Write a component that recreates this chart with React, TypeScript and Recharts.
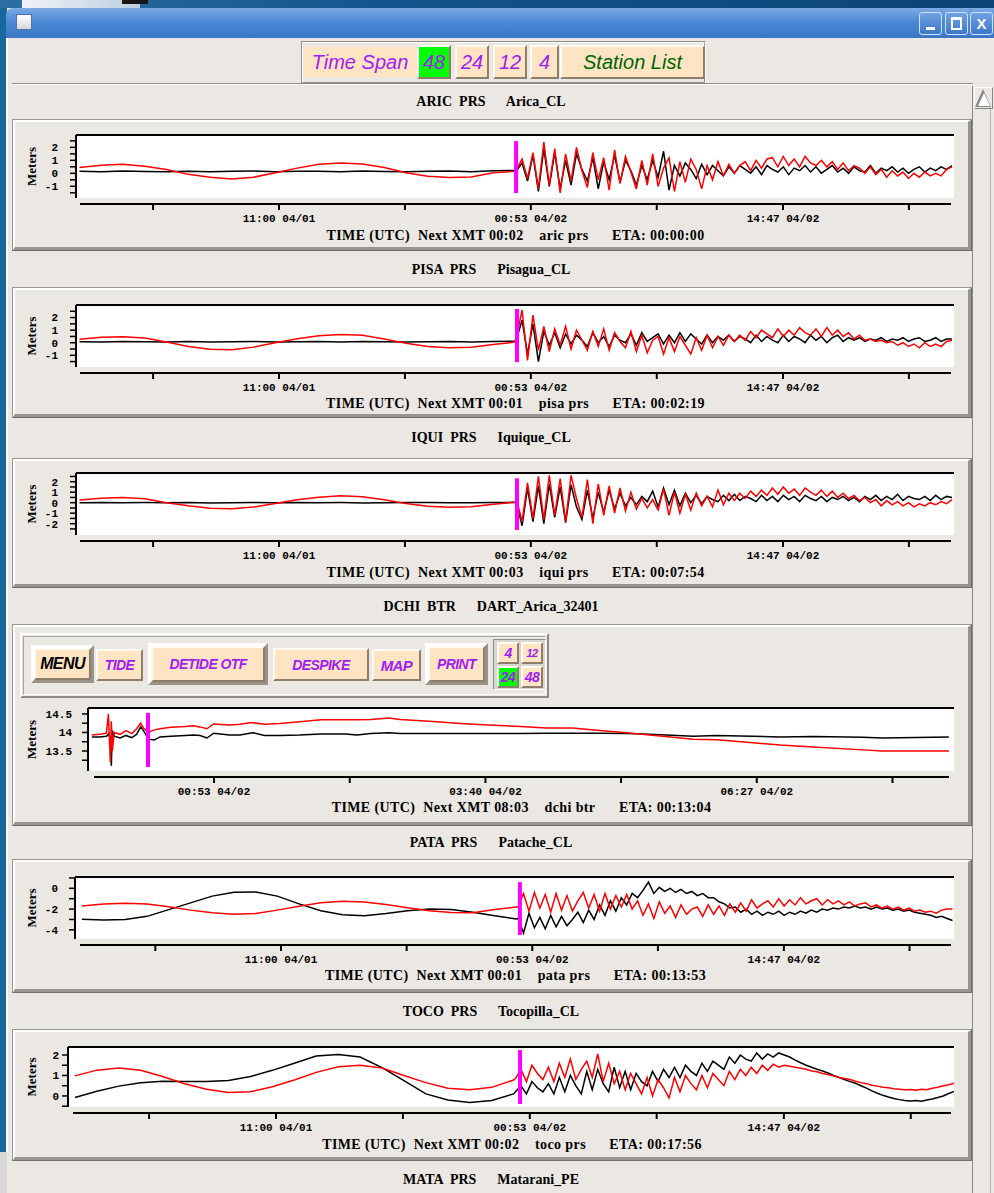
import React from 'react';
import { LineChart, Line, XAxis, YAxis, CartesianGrid, ReferenceLine } from 'recharts';

// ---------- DATA ----------
// hours since 00:00 UTC 04/01 (shared by the tide-gauge stations)
const tideTimes = [
  0, 1.2, 2.4, 3.6, 4.8, 6.0, 7.2, 8.4, 9.6, 10.8, 12.0, 13.2, 14.4, 15.6, 16.8, 18.0, 19.2, 20.4, 21.6, 22.8, 24.0,
  24.1, 24.4, 24.7, 25.0, 25.3, 25.6, 25.9, 26.2, 26.5, 26.8, 27.1, 27.4, 27.7, 28.0, 28.3, 28.6, 28.9, 29.2, 29.5, 29.8,
  30.1, 30.4, 30.7, 31.0, 31.3, 31.6, 31.9, 32.2, 32.5, 32.8, 33.1, 33.4, 33.7, 34.0, 34.3, 34.6, 34.9, 35.2, 35.5, 35.8,
  36.1, 36.4, 36.7, 37.0, 37.3, 37.6, 37.9, 38.2, 38.5, 38.8, 39.1, 39.4, 39.7, 40.0, 40.3, 40.6, 40.9, 41.2, 41.5, 41.8,
  42.1, 42.4, 42.7, 43.0, 43.3, 43.6, 43.9, 44.2, 44.5, 44.8, 45.1, 45.4, 45.7, 46.0, 46.3, 46.6, 46.9, 47.2, 47.5, 47.8,
  48.1,
];

const aricRed = [
  0.45, 0.63, 0.70, 0.55, 0.3, -0.08, -0.3, -0.44, -0.3, 0.05, 0.4, 0.7, 0.8, 0.72, 0.45, 0.05, -0.22, -0.33, -0.28, 0.05, 0.15,
  0.3, 1.1, -0.4, 1.6, -1.2, 2.4, -0.9, 1.9, -1.5, 1.5,
  -0.6, 2.0, 0.2, -1.1, 1.6, -0.5, 1.2, -1.3, 1.8, -0.8,
  1.3, 0.1, -1.2, 1.0, -0.9, 1.5, -1.0, 0.4, 1.2, -1.4,
  0.9, -0.7, 1.1, 0.3, -1.2, 0.6, -0.5, 0.9, -0.2, 0.7,
  0.0, 0.6, 0.9, 0.2, 1.0, 0.4, 1.1, 1.2, 0.5, 1.3,
  0.6, 1.1, 0.5, 1.3, 0.8, 0.6, 1.0, 0.5, 0.9, 0.3,
  0.8, 0.2, 0.6, 0.4, 0.0, 0.5, -0.1, 0.3, -0.3, 0.2,
  -0.2, 0.1, -0.4, 0.0, -0.3, 0.1, -0.2, 0.0, -0.2, 0.3,
  0.5,
];
const aricBlack = [
  0.15, 0.12, 0.17, 0.14, 0.12, 0.16, 0.13, 0.15, 0.18, 0.12, 0.15, 0.16, 0.13, 0.17, 0.14, 0.12, 0.15, 0.18, 0.13, 0.2, 0.22,
  0.2, 0.8, -0.6, 1.4, -1.4, 1.9, -1.0, 1.6, -1.2, 1.0,
  -0.9, 1.5, 0.3, -0.6, 1.2, -1.2, 0.9, -0.5, 1.4, -0.7,
  1.0, 0.2, -0.9, 0.6, -0.5, 1.0, -0.3, 1.7, -1.3, 0.6,
  -0.2, 0.8, 0.3, -0.4, 0.7, -0.1, 0.6, 0.2, -0.2, 0.5,
  0.0, 0.6, 0.3, 0.0, 0.5, -0.1, 0.6, 0.3, 0.1, 0.5,
  -0.1, 0.4, 0.2, 0.6, 0.1, 0.5, 0.0, 0.3, 0.6, 0.1,
  0.4, 0.0, 0.5, 0.2, 0.1, 0.6, 0.0, 0.4, 0.2, 0.5,
  0.1, 0.4, 0.0, 0.3, 0.5, 0.1, 0.4, 0.2, 0.5, 0.3,
  0.6,
];

const pisaRed = [
  0.27, 0.44, 0.48, 0.37, 0.05, -0.3, -0.52, -0.55, -0.35, 0.0, 0.32, 0.55, 0.66, 0.6, 0.3, -0.05, -0.3, -0.4, -0.35, -0.15, 0.05,
  0.5, 2.6, -1.4, 2.2, -0.6, 1.3, -0.7, 1.1, -0.2, 1.3,
  -0.5, 1.0, 0.2, -0.6, 0.9, -0.3, 1.1, -0.6, 0.8, 0.1,
  -0.4, 0.9, -0.7, 0.6, -0.8, 0.2, 0.5, -0.9, 0.4, -0.7,
  0.5, -0.2, -0.9, 0.4, -0.6, 0.6, -0.4, 0.5, -0.2, 0.6,
  0.1, 0.6, 0.2, 0.9, 0.4, 1.0, 0.7, 0.4, 1.1, 0.5,
  1.0, 0.6, 1.2, 0.8, 0.6, 1.1, 0.5, 1.2, 0.6, 1.0,
  0.5, 0.8, 0.3, 0.6, 0.2, 0.3, 0.1, 0.2, 0.0, 0.1,
  -0.2, 0.0, -0.3, -0.1, -0.4, 0.0, -0.3, -0.1, -0.3, 0.1,
  0.2,
];
const pisaBlack = [
  0.08, 0.06, 0.1, 0.07, 0.05, 0.09, 0.06, 0.08, 0.1, 0.05, 0.07, 0.09, 0.06, 0.1, 0.07, 0.05, 0.08, 0.1, 0.06, 0.09, 0.12,
  0.3, 1.8, -0.9, 1.5, -1.5, 0.9, -0.2, 0.8, -0.4, 0.7,
  -0.1, 0.6, 0.2, -0.3, 0.8, 0.0, 0.5, -0.3, 0.6, 0.2,
  0.0, 0.7, -0.2, 0.8, 0.1, 0.4, 0.7, -0.1, 0.6, 0.0,
  0.8, 0.1, 0.7, 0.3, -0.1, 0.6, 0.0, 0.5, 0.2, 0.6,
  0.1, 0.5, 0.3, 0.0, 0.6, 0.1, 0.5, 0.2, 0.0, 0.6,
  0.1, 0.5, 0.3, 0.0, 0.6, 0.2, 0.5, 0.0, 0.4, 0.6,
  0.1, 0.4, 0.2, 0.4, 0.1, 0.3, 0.2, 0.4, 0.1, 0.3,
  0.2, 0.4, 0.1, 0.3, 0.4, 0.1, 0.2, 0.4, 0.1, 0.3,
  0.3,
];

const iquiRed = [
  0.26, 0.42, 0.5, 0.38, 0.0, -0.3, -0.52, -0.58, -0.42, -0.07, 0.28, 0.52, 0.65, 0.56, 0.27, -0.07, -0.33, -0.43, -0.38, -0.15, 0.05,
  0.3, -1.8, 1.9, -1.5, 2.5, -1.6, 2.6, -1.2, 2.3, -1.8,
  2.6, 0.4, -1.4, 2.2, -2.0, 1.8, -1.2, 1.6, -1.0, 1.4,
  -0.8, 1.0, -0.6, 0.4, -0.5, 0.3, -0.7, 1.3, -1.2, 1.0,
  -1.0, 0.8, -0.7, 0.9, -0.3, 0.6, -0.4, 1.2, -0.2, 0.9,
  0.2, 0.9, 0.4, 1.1, 0.6, 1.2, 0.7, 1.4, 0.8, 1.5,
  0.9, 1.3, 0.7, 1.4, 1.0, 0.7, 1.2, 0.6, 1.1, 0.5,
  0.9, 0.4, 0.7, 0.2, 0.5, 0.0, 0.3, -0.3, 0.2, -0.2,
  0.1, -0.3, 0.0, -0.4, -0.1, -0.3, 0.0, -0.2, 0.1, -0.1,
  0.3,
];
const iquiBlack = [
  0.0, 0.02, -0.01, 0.01, 0.0, 0.02, -0.02, 0.0, 0.01, -0.01, 0.02, 0.0, 0.01, -0.02, 0.0, 0.02, 0.01, -0.01, 0.0, 0.02, 0.03,
  0.0, -2.2, 1.4, -1.8, 1.6, -2.0, 1.8, -1.4, 1.5, -1.9,
  1.7, -0.4, -1.6, 1.2, -1.5, 1.0, -0.9, 1.2, -0.6, 0.9,
  -0.3, 0.5, -0.2, 0.6, 0.1, 1.1, -0.4, 1.4, -0.2, 1.2,
  -0.3, 0.9, 0.0, 0.7, -0.1, 0.6, 0.3, 0.1, 0.7, 0.2,
  0.8, 0.2, 0.6, 0.4, 0.1, 0.7, 0.2, 0.6, 0.1, 0.7,
  0.3, 0.6, 0.1, 0.7, 0.4, 0.2, 0.6, 0.1, 0.5, 0.3,
  0.6, 0.2, 0.5, 0.1, 0.6, 0.3, 0.7, 0.2, 0.6, 0.3,
  0.8, 0.2, 0.6, 0.4, 0.3, 0.6, 0.2, 0.7, 0.3, 0.6,
  0.5,
];

const pataRed = [
  -1.7, -1.5, -1.44, -1.5, -1.78, -2.1, -2.35, -2.5, -2.42, -2.1, -1.72, -1.4, -1.25, -1.32, -1.55, -1.88, -2.15, -2.32, -2.35, -2.05, -1.8,
  -1.8, -0.5, -2.2, -0.4, -1.9, -0.6, -2.3, -0.5, -2.1, -0.7,
  -2.2, -1.2, -0.4, -1.9, -0.6, -2.2, -0.5, -2.0, -0.7, -1.8,
  -0.6, -2.0, -1.2, -2.6, -1.5, -2.9, -1.3, -2.4, -1.7, -2.8,
  -1.6, -2.5, -2.0, -1.8, -2.7, -1.6, -2.5, -1.7, -2.6, -1.5,
  -2.3, -1.4, -2.2, -1.1, -1.9, -1.5, -1.2, -1.8, -1.0, -1.7,
  -1.1, -1.6, -0.9, -1.5, -1.2, -1.0, -1.6, -1.1, -1.5, -1.2,
  -1.6, -1.3, -1.7, -1.5, -1.4, -1.8, -1.6, -1.9, -1.7, -2.0,
  -1.8, -2.1, -1.9, -2.2, -2.1, -2.3, -2.2, -2.4, -2.1, -2.0,
  -2.0,
];
const pataBlack = [
  -2.98, -3.04, -3.0, -2.7, -2.05, -1.4, -0.75, -0.38, -0.35, -0.75, -1.5, -2.15, -2.55, -2.63, -2.42, -2.15, -2.0, -2.05, -2.3, -2.65, -2.95,
  -2.9, -4.3, -2.4, -3.8, -2.8, -3.9, -2.6, -3.7, -2.7, -3.6,
  -3.0, -2.3, -3.3, -2.1, -3.0, -1.6, -2.6, -1.2, -2.2, -0.9,
  -1.6, -0.5, -0.9, -0.2, 0.6, -0.5, 0.1, -0.3, 0.0, -0.4,
  -0.1, -0.5, -0.3, -0.7, -0.5, -0.9, -0.9, -1.3, -1.5, -1.9,
  -1.8, -2.3, -2.0, -2.5, -2.2, -2.6, -2.3, -2.5, -2.2, -2.6,
  -2.3, -2.5, -2.2, -2.4, -2.1, -2.3, -2.0, -2.1, -1.9, -2.0,
  -1.8, -1.9, -1.7, -1.9, -1.8, -2.0, -1.8, -2.0, -1.9, -2.1,
  -2.0, -2.2, -2.1, -2.3, -2.4, -2.5, -2.6, -2.8, -2.7, -2.9,
  -3.1,
];

const tocoRed = [
  0.98, 1.26, 1.37, 1.25, 0.95, 0.6, 0.33, 0.17, 0.2, 0.45, 0.78, 1.15, 1.42, 1.5, 1.36, 1.0, 0.65, 0.38, 0.3, 0.42, 0.78,
  0.85, 1.3, 0.7, 1.5, 1.1, 0.8, 1.4, 0.7, 1.6, 0.9,
  1.8, 0.8, 1.3, 1.7, 0.9, 2.05, 0.7, 1.6, 0.6, 1.2,
  0.3, 1.1, 0.6, 0.1, 0.9, 0.0, 0.8, 0.4, -0.1, 0.9,
  0.2, 1.0, 0.6, 0.3, 1.0, 0.4, 1.1, 0.8, 0.5, 1.2,
  0.8, 1.3, 1.0, 1.4, 1.1, 1.5, 1.25, 1.55, 1.4, 1.5,
  1.45, 1.4, 1.35, 1.3, 1.22, 1.18, 1.1, 1.05, 0.98, 0.9,
  0.85, 0.8, 0.72, 0.65, 0.6, 0.52, 0.48, 0.42, 0.4, 0.35,
  0.33, 0.3, 0.32, 0.28, 0.33, 0.3, 0.38, 0.42, 0.5, 0.55,
  0.62,
];
const tocoBlack = [
  -0.08, 0.23, 0.48, 0.64, 0.72, 0.71, 0.7, 0.76, 0.95, 1.25, 1.6, 1.95, 2.02, 1.9, 1.38, 0.75, 0.1, -0.2, -0.32, -0.22, 0.1,
  0.2, 0.5, 0.1, 0.7, 0.4, 0.2, 0.6, 0.1, 0.9, 0.2,
  1.0, 0.5, 0.1, 1.2, 0.3, 1.3, 0.6, 0.2, 1.4, 0.4,
  1.2, 0.3, 1.1, 0.7, 0.5, 1.2, 0.7, 1.3, 0.9, 1.4,
  0.9, 1.5, 1.2, 1.0, 1.6, 1.2, 1.7, 1.5, 1.3, 1.9,
  1.6, 2.0, 1.8, 1.7, 2.1, 1.8, 2.05, 1.9, 2.1, 2.0,
  1.9, 1.75, 1.62, 1.5, 1.4, 1.3, 1.22, 1.12, 1.0, 0.9,
  0.8, 0.7, 0.62, 0.5, 0.38, 0.25, 0.13, 0.03, -0.05, -0.12,
  -0.18, -0.22, -0.25, -0.22, -0.26, -0.2, -0.15, -0.08, 0.0, 0.12,
  0.22,
];

// DART buoy 32401 (hours since 00:00 UTC 04/01)
const dartTimes = [
  23.63, 23.71, 23.78, 23.80, 23.82, 23.83, 23.84, 23.86, 23.92, 23.98,
  24.04, 24.09, 24.13, 24.16, 24.21, 24.27, 24.33, 24.44, 24.59, 24.67,
  24.74, 24.81, 24.88, 25.04, 25.15, 25.25, 25.29, 25.40, 25.56, 25.76,
  25.98, 26.23, 26.35, 26.49, 26.68, 26.79, 27.09, 27.49, 28.03, 28.29,
  28.56, 28.84, 29.12, 29.35, 29.80, 30.04, 30.41, 30.69, 31.03, 31.54,
  31.74, 32.42,
];
const dartRed = [
  13.93, 13.95, 13.98, 14.5, 13.2, 14.3, 13.5, 14.0, 13.95, 14.05,
  13.97, 14.1, 14.25, 14.12, 14.0, 14.07, 14.1, 14.14, 14.16, 14.18,
  14.15, 14.1, 14.23, 14.2, 14.22, 14.26, 14.26, 14.22, 14.24, 14.29,
  14.34, 14.34, 14.34, 14.35, 14.39, 14.35, 14.3, 14.23, 14.16, 14.12,
  14.12, 14.05, 13.99, 13.93, 13.82, 13.8, 13.72, 13.66, 13.61, 13.53,
  13.5, 13.5,
];
const dartBlack = [
  13.88, 13.88, 13.9, 13.95, 13.85, 13.1, 14.05, 13.9, 13.85, 13.92,
  13.86, 13.95, 14.15, 14.05, 13.82, 13.8, 13.88, 13.9, 13.92, 13.93,
  13.92, 13.85, 13.98, 13.93, 13.93, 13.98, 13.99, 13.92, 13.92, 13.93,
  13.96, 13.96, 13.93, 13.97, 13.99, 13.97, 13.97, 13.97, 13.97, 13.98,
  13.98, 13.98, 13.97, 13.95, 13.9, 13.92, 13.9, 13.88, 13.89, 13.87,
  13.85, 13.88,
];

const tideTicks = [4.058, 11.0, 17.942, 24.883, 31.825, 38.783, 45.725];
const tideTickLabels = ['', '11:00 04/01', '', '00:53 04/02', '', '14:47 04/02', ''];
const dartTicks = [24.883, 26.275, 27.667, 29.058, 30.45, 31.842];
const dartTickLabels = ['00:53 04/02', '', '03:40 04/02', '', '06:27 04/02', ''];

const meterTicks = [-1.5, -1, -0.5, 0, 0.5, 1, 1.5, 2, 2.5];
const meterTicksWide = [-2.5, -2, -1.5, -1, -0.5, 0, 0.5, 1, 1.5, 2, 2.5];
const pataTicks = [-4, -3, -2, -1, 0, 1];
const tocoTicks = [-0.5, 0, 0.5, 1, 1.5, 2];
const dartYTicks = [13.25, 13.5, 13.75, 14, 14.25, 14.5];

// ---------- STYLE ----------
const BG = '#ebe8e3';
const PEACH = '#ffe4c4';
const PURPLE = '#a020f0';
const SERIF = "'Liberation Serif', 'DejaVu Serif', serif";
const MONO = "'Liberation Mono', 'DejaVu Sans Mono', monospace";
const SANS = "'Liberation Sans', 'DejaVu Sans', sans-serif";
const NB = '\u00a0';

const caption = (xmt: string, id: string, eta: string) =>
  `TIME${NB}(UTC)${NB}${NB}Next XMT ${xmt}${NB}${NB}${NB}${NB}${id.replace(' ', NB)}${NB}${NB}${NB}${NB}${NB}${NB}ETA:${NB}${eta}`;

type Cfg = {
  title: string; titleY: number; frameTop: number; frameBottom: number;
  plotLeft: number; plotRight: number; plotTop: number; plotBottom: number;
  axisLeft: number; axisRight: number; axisY: number; captionH: number;
  yDomain: [number, number]; yTicks: number[]; yLabels: number[]; yTickMargin: number;
  anchorH: number; anchorPx: number; k: number;
  xTicks: number[]; xLabels: string[]; caption: string;
  eventT: number; eventY: [number, number];
  times: number[]; red: number[]; black: number[];
};

const panels: Cfg[] = [
  {
    title: 'ARIC  PRS      Arica_CL', titleY: 102, frameTop: 119, frameBottom: 251,
    plotLeft: 76, plotRight: 954, plotTop: 135, plotBottom: 198,
    axisLeft: 80, axisRight: 951, axisY: 204, captionH: 36,
    yDomain: [-1.9, 2.95], yTicks: meterTicks, yLabels: [-1, 0, 1, 2], yTickMargin: 12,
    anchorH: 11, anchorPx: 279, k: 18.14, xTicks: tideTicks, xLabels: tideTickLabels,
    caption: caption('00:02', 'aric prs', '00:00:00'), eventT: 24.07, eventY: [-1.52, 2.48],
    times: tideTimes, red: aricRed, black: aricBlack,
  },
  {
    title: 'PISA  PRS      Pisagua_CL', titleY: 270, frameTop: 287, frameBottom: 418,
    plotLeft: 76, plotRight: 954, plotTop: 305, plotBottom: 367,
    axisLeft: 80, axisRight: 951, axisY: 373, captionH: 35,
    yDomain: [-1.93, 3.0], yTicks: meterTicks, yLabels: [-1, 0, 1, 2], yTickMargin: 12,
    anchorH: 11, anchorPx: 279, k: 18.14, xTicks: tideTicks, xLabels: tideTickLabels,
    caption: caption('00:01', 'pisa prs', '00:02:19'), eventT: 24.12, eventY: [-1.54, 2.68],
    times: tideTimes, red: pisaRed, black: pisaBlack,
  },
  {
    title: 'IQUI  PRS      Iquique_CL', titleY: 438, frameTop: 458, frameBottom: 588,
    plotLeft: 76, plotRight: 954, plotTop: 473, plotBottom: 535,
    axisLeft: 80, axisRight: 951, axisY: 541, captionH: 36,
    yDomain: [-3.08, 2.83], yTicks: meterTicksWide, yLabels: [-2, -1, 0, 1, 2], yTickMargin: 12,
    anchorH: 11, anchorPx: 279, k: 18.14, xTicks: tideTicks, xLabels: tideTickLabels,
    caption: caption('00:03', 'iqui prs', '00:07:54'), eventT: 24.12, eventY: [-2.6, 2.32],
    times: tideTimes, red: iquiRed, black: iquiBlack,
  },
  {
    title: 'DCHI  BTR      DART_Arica_32401', titleY: 607, frameTop: 624, frameBottom: 826,
    plotLeft: 88, plotRight: 954, plotTop: 708, plotBottom: 771,
    axisLeft: 94, axisRight: 949, axisY: 777, captionH: 35,
    yDomain: [12.96, 14.66], yTicks: dartYTicks, yLabels: [13.5, 14, 14.5], yTickMargin: 10,
    anchorH: 24.883, anchorPx: 214, k: 97.5, xTicks: dartTicks, xLabels: dartTickLabels,
    caption: caption('08:03', 'dchi btr', '00:13:04'), eventT: 24.206, eventY: [13.07, 14.53],
    times: dartTimes, red: dartRed, black: dartBlack,
  },
  {
    title: 'PATA  PRS      Patache_CL', titleY: 843, frameTop: 859, frameBottom: 993,
    plotLeft: 75, plotRight: 954, plotTop: 877, plotBottom: 939,
    axisLeft: 80, axisRight: 951, axisY: 945, captionH: 35,
    yDomain: [-4.88, 1.09], yTicks: pataTicks, yLabels: [-4, -2, 0], yTickMargin: 11,
    anchorH: 11, anchorPx: 281, k: 18.1, xTicks: tideTicks, xLabels: tideTickLabels,
    caption: caption('00:01', 'pata prs', '00:13:53'), eventT: 24.2, eventY: [-4.49, 0.6],
    times: tideTimes, red: pataRed, black: pataBlack,
  },
  {
    title: 'TOCO  PRS      Tocopilla_CL', titleY: 1012, frameTop: 1029, frameBottom: 1161,
    plotLeft: 68, plotRight: 954, plotTop: 1047, plotBottom: 1107,
    axisLeft: 73, axisRight: 951, axisY: 1113, captionH: 36,
    yDomain: [-0.54, 2.39], yTicks: tocoTicks, yLabels: [0, 1, 2], yTickMargin: 3,
    anchorH: 11, anchorPx: 276, k: 18.28, xTicks: tideTicks, xLabels: tideTickLabels,
    caption: caption('00:02', 'toco prs', '00:17:56'), eventT: 24.35, eventY: [-0.39, 2.24],
    times: tideTimes, red: tocoRed, black: tocoBlack,
  },
];

// ---------- HELPERS ----------
const abs = (l: number, t: number, w: number, h: number, extra: React.CSSProperties = {}): React.CSSProperties => ({
  position: 'absolute', left: l, top: t, width: w, height: h, boxSizing: 'border-box', ...extra,
});
const bevel = (light: string, dark: string, w: number): React.CSSProperties => ({
  borderStyle: 'solid', borderWidth: w,
  borderTopColor: light, borderLeftColor: light, borderRightColor: dark, borderBottomColor: dark,
});

function Title({ text, y }: { text: string; y: number }) {
  return (
    <div style={abs(291, y - 9, 400, 18, {
      textAlign: 'center', fontFamily: SERIF, fontWeight: 700, fontSize: 14, lineHeight: '18px',
      whiteSpace: 'pre', color: '#000',
    })}>{text}</div>
  );
}

function Frame({ top, bottom }: { top: number; bottom: number }) {
  return (
    <div style={abs(12, top, 960, bottom - top, bevel('#9a9792', '#6e6c68', 1))}>
      <div style={{ position: 'absolute', inset: 0, ...bevel('#ffffff', '#97948f', 2), borderRightWidth: 3, borderBottomWidth: 3 }} />
    </div>
  );
}

function Btn({ l, t, w, h, bg, color, text, size, heavy, bold }: {
  l: number; t: number; w: number; h: number; bg: string; color: string; text: string; size: number;
  heavy?: boolean; bold?: boolean;
}) {
  const inner = (
    <div style={{
      position: 'absolute', inset: 0, background: bg, ...bevel('#fffaf2', '#8d7e6c', 2),
      display: 'flex', alignItems: 'center', justifyContent: 'center',
      color, fontFamily: SANS, fontStyle: 'italic', fontWeight: bold ? 700 : 400, fontSize: size,
      letterSpacing: bold ? -0.6 : 0, whiteSpace: 'pre',
    }}>{text}</div>
  );
  if (!heavy) return <div style={abs(l, t, w, h)}>{inner}</div>;
  return (
    <div style={abs(l, t, w, h, { ...bevel('#ffffff', '#9b9389', 3) })}>
      <div style={{ position: 'absolute', inset: 0 }}>{inner}</div>
    </div>
  );
}

function StationCharts({ cfg }: { cfg: Cfg }) {
  const data = cfg.times.map((t, i) => ({ t, black: cfg.black[i], red: cfg.red[i] }));
  const toH = (px: number) => cfg.anchorH + (px - cfg.anchorPx) / cfg.k;
  const labelX = 31;
  const yW = cfg.plotLeft - labelX + 5;
  const plotH = cfg.plotBottom - cfg.plotTop;
  const fmtY = (v: number) => (cfg.yLabels.indexOf(v) >= 0 ? String(v) : '');
  const fmtX = (v: number) => {
    const i = cfg.xTicks.indexOf(v);
    return i >= 0 ? cfg.xLabels[i] : '';
  };
  return (
    <>
      <div style={{ position: 'absolute', left: 0, top: cfg.plotTop - 2 }}>
        <LineChart width={994} height={plotH + 2} data={data}
          margin={{ top: 1, right: 994 - cfg.plotRight, bottom: 0, left: cfg.plotLeft - yW }}>
          <CartesianGrid fill="#ffffff" horizontal={false} vertical={false} stroke="none" />
          <XAxis orientation="top" type="number" dataKey="t" domain={[toH(cfg.plotLeft), toH(cfg.plotRight)]}
            allowDataOverflow height={1} tick={false} tickLine={false}
            axisLine={{ stroke: '#000', strokeWidth: 2 }} />
          <YAxis type="number" domain={cfg.yDomain} allowDataOverflow ticks={cfg.yTicks} interval={0}
            width={yW} tickSize={6} tickMargin={cfg.yTickMargin}
            tickLine={{ stroke: '#000', strokeWidth: 1.5 }} axisLine={{ stroke: '#000', strokeWidth: 2 }}
            tick={{ fill: '#000', fontSize: 11, fontWeight: 700, fontFamily: MONO }}
            tickFormatter={fmtY}
            label={{
              value: 'Meters', angle: -90, position: 'insideLeft', offset: 5,
              style: { textAnchor: 'middle', fontFamily: SERIF, fontWeight: 700, fontSize: 13, fill: '#000' },
            }} />
          <Line dataKey="black" stroke="#000000" strokeWidth={1.5} dot={false} isAnimationActive={false} />
          <Line dataKey="red" stroke="#ff0000" strokeWidth={1.5} dot={false} isAnimationActive={false} />
          <ReferenceLine segment={[{ x: cfg.eventT, y: cfg.eventY[0] }, { x: cfg.eventT, y: cfg.eventY[1] }]}
            stroke="#ff00ff" strokeWidth={4} />
        </LineChart>
      </div>
      <div style={{ position: 'absolute', left: 0, top: cfg.axisY - 2 }}>
        <LineChart width={994} height={2 + cfg.captionH + 6} data={data}
          margin={{ top: 1, right: 994 - cfg.axisRight, bottom: 6, left: cfg.axisLeft }}>
          <XAxis type="number" dataKey="t" domain={[toH(cfg.axisLeft), toH(cfg.axisRight)]} allowDataOverflow
            ticks={cfg.xTicks} interval={0} height={cfg.captionH} tickSize={6} tickMargin={4}
            tickLine={{ stroke: '#000', strokeWidth: 2 }} axisLine={{ stroke: '#000', strokeWidth: 2 }}
            tick={{ fill: '#000', fontSize: 11, fontWeight: 700, fontFamily: MONO }}
            tickFormatter={fmtX}
            label={{
              value: cfg.caption, position: 'insideBottom', offset: 0,
              style: { fontFamily: SERIF, fontWeight: 700, fontSize: 14, letterSpacing: 0.4, fill: '#000' },
            }} />
          <YAxis hide domain={[0, 1]} />
        </LineChart>
      </div>
    </>
  );
}

export default function App() {
  return (
    <div style={{ position: 'absolute', left: 0, top: 0, width: 994, height: 1193, overflow: 'hidden', background: BG, fontFamily: SERIF }}>
      {/* desktop behind the window */}
      <div style={abs(0, 0, 994, 8, { background: 'linear-gradient(90deg, #2b6fa4, #12548b 40%, #0c4377)' })} />
      <div style={abs(22, 0, 118, 8, { background: 'linear-gradient(90deg, #eef2f6, #bccfe1)' })} />
      <div style={abs(122, 0, 26, 4, { background: '#151515' })} />
      <div style={abs(0, 8, 7, 1144, { background: '#16689d' })} />
      <div style={abs(0, 1152, 7, 41, { background: '#d8d8d8' })} />

      {/* title bar */}
      <div style={abs(6, 8, 988, 30, { background: 'linear-gradient(#7cabe5, #4b89d5 45%, #3a76c4)', borderTopLeftRadius: 7 })} />
      <div style={abs(16, 14, 16, 16, { background: 'linear-gradient(#ffffff, #d6d6d6)', border: '1px solid #4d74a8' })} />
      {[919, 945, 970].map((x, i) => (
        <div key={x} style={abs(x, 12, 23, 23, {
          background: 'linear-gradient(#6fa2e2, #3c77c8)', border: '1px solid #d2e2f6', borderRadius: 3,
        })}>
          {i === 0 && <div style={abs(6, 14, 9, 3, { background: '#fff' })} />}
          {i === 1 && <div style={abs(5, 4, 11, 13, { border: '2px solid #fff', borderTopWidth: 3 })} />}
          {i === 2 && <div style={{
            position: 'absolute', inset: 0, color: '#fff', fontFamily: SANS, fontWeight: 700, fontSize: 15,
            lineHeight: '21px', textAlign: 'center',
          }}>X</div>}
        </div>
      ))}
      <div style={abs(6, 38, 2, 1114, { background: '#f7f7f7' })} />

      {/* tool bar */}
      <div style={abs(301, 41, 405, 43, { ...bevel('#8f8c87', '#ffffff', 1) })}>
        <div style={{ position: 'absolute', inset: 0, ...bevel('#ffffff', '#8f8c87', 1) }} />
      </div>
      <div style={abs(304, 47, 112, 30, {
        background: PEACH, color: PURPLE, fontFamily: SANS, fontStyle: 'italic', fontSize: 20,
        lineHeight: '30px', textAlign: 'center',
      })}>Time Span</div>
      <Btn l={417} t={45} w={34} h={34} bg="#00ff00" color={PURPLE} text="48" size={20} />
      <Btn l={455} t={45} w={34} h={34} bg={PEACH} color={PURPLE} text="24" size={20} />
      <Btn l={493} t={45} w={34} h={34} bg={PEACH} color={PURPLE} text="12" size={20} />
      <Btn l={530} t={45} w={29} h={34} bg={PEACH} color={PURPLE} text="4" size={20} />
      <Btn l={560} t={45} w={145} h={34} bg={PEACH} color="#006400" text="Station List" size={20} />
      <div style={abs(12, 83, 961, 2, { borderTop: '1px solid #8f8c87', borderBottom: '1px solid #ffffff' })} />

      {/* scroll bar */}
      <div style={abs(972, 86, 22, 1107, { background: BG, borderLeft: '1px solid #8a8782' })} />
      <div style={abs(974, 87, 19, 22, { ...bevel('#ffffff', '#8a8782', 1) })}>
        <div style={abs(0, 1, 0, 0, { borderLeft: '8.5px solid transparent', borderRight: '8.5px solid transparent', borderBottom: '18px solid #8a8782' })} />
        <div style={abs(2.5, 5, 0, 0, { borderLeft: '6px solid transparent', borderRight: '6px solid transparent', borderBottom: '13px solid #ffffff' })} />
      </div>
      <div style={abs(990, 109, 1, 1084, { background: '#b8b5b0' })} />

      {/* stations */}
      {panels.map((p) => (
        <React.Fragment key={p.title}>
          <Title text={p.title} y={p.titleY} />
          <Frame top={p.frameTop} bottom={p.frameBottom} />
        </React.Fragment>
      ))}

      {/* DART control row */}
      <div style={abs(20, 633, 529, 65, { ...bevel('#ffffff', '#8f8c87', 2) })}>
        <div style={{ position: 'absolute', inset: 1, ...bevel('#a7a49f', '#ffffff', 1) }} />
      </div>
      <Btn l={31} t={645} w={63} h={38} bg={PEACH} color="#000" text="MENU" size={16} heavy bold />
      <Btn l={96} t={649} w={47} h={32} bg={PEACH} color={PURPLE} text="TIDE" size={14} bold />
      <Btn l={148} t={643} w={120} h={42} bg={PEACH} color={PURPLE} text="DETIDE OTF" size={14} heavy bold />
      <Btn l={273} t={648} w={96} h={33} bg={PEACH} color={PURPLE} text="DESPIKE" size={14} bold />
      <Btn l={372} t={649} w={49} h={32} bg={PEACH} color={PURPLE} text="MAP" size={15} bold />
      <Btn l={425} t={643} w={63} h={42} bg={PEACH} color={PURPLE} text="PRINT" size={14} heavy bold />
      <div style={abs(493, 639, 53, 51, { ...bevel('#8f8c87', '#ffffff', 1), background: '#d9d6d0' })} />
      <Btn l={497} t={642} w={22} h={22} bg={PEACH} color={PURPLE} text="4" size={14} bold />
      <Btn l={521} t={642} w={22} h={22} bg={PEACH} color={PURPLE} text="12" size={11} bold />
      <Btn l={497} t={666} w={22} h={22} bg="#00ff00" color={PURPLE} text="24" size={14} bold />
      <Btn l={521} t={666} w={22} h={22} bg={PEACH} color={PURPLE} text="48" size={14} bold />

      {panels.map((p) => <StationCharts key={p.title + 'c'} cfg={p} />)}

      <Title text={'MATA  PRS      Matarani_PE'} y={1180} />
    </div>
  );
}
